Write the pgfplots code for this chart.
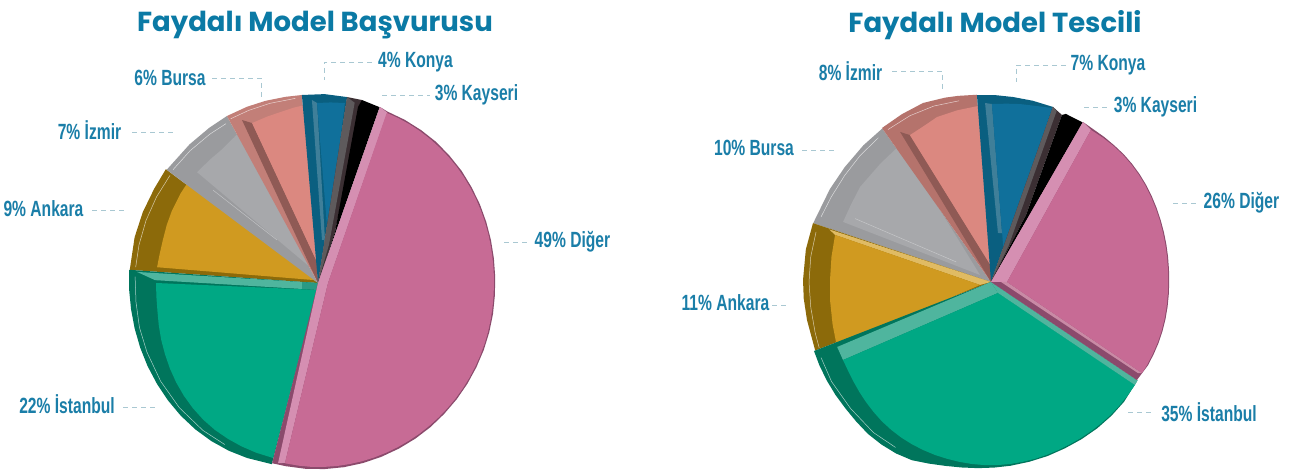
\documentclass[border=0pt]{standalone}
\usepackage{fontspec}
\usepackage{pgfplots}
\pgfplotsset{compat=1.18}
\setmainfont{Liberation Sans}
\newfontfamily\titlefont{Poppins}
\newfontfamily\labfont[FakeStretch=0.71]{Liberation Sans}
\definecolor{tc}{HTML}{0B7AA5}
\definecolor{lc}{HTML}{1A7EA8}
\definecolor{ld}{HTML}{A9C8D2}
\definecolor{gob}{HTML}{8C6A0A}\definecolor{gof}{HTML}{D09A20}\definecolor{gol}{HTML}{E0BB63}
\definecolor{grb}{HTML}{9A9B9E}\definecolor{grf}{HTML}{A7A8AB}\definecolor{grl}{HTML}{D6D7D9}
\definecolor{sab}{HTML}{C27F78}\definecolor{sad}{HTML}{8F5A55}\definecolor{saf}{HTML}{DB8880}\definecolor{sac}{HTML}{B5736C}
\definecolor{blb}{HTML}{0A5F80}\definecolor{bll}{HTML}{3F7F99}\definecolor{blf}{HTML}{10709B}
\definecolor{kad}{HTML}{3B2F33}\definecolor{kag}{HTML}{5E5A5C}
\definecolor{geb}{HTML}{00755C}\definecolor{gef}{HTML}{00A884}\definecolor{gel}{HTML}{4FB59E}\definecolor{gem}{HTML}{2A9A84}
\definecolor{pib}{HTML}{8B4A6C}\definecolor{pil}{HTML}{D58FB2}\definecolor{pif}{HTML}{C76B95}\definecolor{pim}{HTML}{C98AA5}
% wedges are tables of (angle, radius in px) about each pie's centre
\newcommand\W[4]{\addplot[fill=#3,draw=none,forget plot] table[row sep=\\,x expr={#1+\thisrow{r}*cos(\thisrow{t})},y expr={#2-\thisrow{r}*sin(\thisrow{t})}] {t r\\ #4};}
\newcommand\LW[2]{\W{318}{283}{#1}{#2}}
\newcommand\RW[2]{\W{991}{282}{#1}{#2}}
\newcommand\Ln[4]{\addplot[draw=#3,line width=0.5pt,opacity=0.65,forget plot] table[row sep=\\,x expr={#1+\thisrow{r}*cos(\thisrow{t})},y expr={#2-\thisrow{r}*sin(\thisrow{t})}] {t r\\ #4};}
\newcommand\Lb[3]{\node[font=\labfont\bfseries\fontsize{22}{23}\selectfont,text=lc,inner sep=0pt] at (axis cs:#1,#2) {#3};}
\newcommand\Ld[1]{\addplot[draw=ld,line width=0.8pt,dash pattern=on 5pt off 4pt,forget plot] coordinates {#1};}
\begin{document}
\begin{tikzpicture}
\begin{axis}[scale only axis,width=1291pt,height=468pt,xmin=0,xmax=1291,ymin=0,ymax=468,y dir=reverse,hide axis,clip=false]
\addplot[fill=white,draw=none,forget plot] coordinates {(0,0) (1291,0) (1291,468) (0,468)};
% ---------- left pie ----------
\LW{gob}{0 0\\ 143.2 190\\ 150 189\\ 158 189\\ 166 189\\ 176 188.7\\}
\LW{gof}{135 4\\ 142.2 164.6\\ 147 164\\ 153.7 163\\ 159 162\\ 164.5 161\\ 170 161\\ 174.4 161.7\\}
\Ln{318}{283}{white}{144 183\\ 152 183\\ 160 183\\ 168 183\\ 175 183\\}
\LW{grb}{0 0\\ 118.6 190.2\\ 125 189.5\\ 132.8 189\\ 143.2 189\\}
\LW{grf}{100 11\\ 115.8 172\\ 120 168\\ 125.8 164.5\\ 131 164\\ 137.5 164\\}
\Ln{318}{283}{white}{120 184\\ 126 184\\ 134 184\\ 142 184\\}
\Ln{318}{283}{grl}{138.5 140\\ 133.6 59.4\\}
\LW{sab}{0 0\\ 94.9 188.7\\ 100 189\\ 106.2 189.6\\ 112 190\\ 118.6 190.2\\}
\LW{sad}{0 0\\ 115 179.8\\ 112.4 173\\ 92.7 21\\}
\LW{saf}{92.7 21\\ 112.4 173\\ 107 174\\ 102.5 175\\ 98 177\\ 94.2 178.5\\}
\Ln{318}{283}{white}{97 186\\ 105 186\\ 112 186\\ 118 186\\}
\LW{blb}{0 0\\ 94.9 188.7\\ 88 189\\ 81.1 188.2\\}
\LW{bll}{91.9 183.1\\ 90.3 180\\ 80.8 43.6\\ 84.7 43.2\\}
\LW{blf}{77.5 46\\ 90.3 180\\ 86 181\\ 81.5 182\\}
\LW{kad}{0 0\\ 81.1 188.2\\ 76.5 188.2\\ 71.6 53.8\\}
\LW{kag}{0 0\\ 81.1 188.2\\ 78.5 184\\ 74 40\\}
\LW{black}{0 0\\ 71.6 53.8\\ 77.2 180.5\\ 76.5 188.2\\ 70.7 186.3\\}
\LW{geb}{0 0\\ 176 189.4\\ 182 189\\ 188 188.8\\ 194 188.9\\ 200 189.2\\ 206 189.6\\ 212 190\\ 218 190.5\\ 224 190.9\\ 230 191\\ 236 190.7\\ 242 190\\ 248 188.8\\ 255.7 187\\}
\LW{gef}{262 7\\ 180 162\\ 185 162.2\\ 190 163\\ 195 164.8\\ 200 166.8\\ 205 168.8\\ 210 171\\ 215 173.2\\ 220 175.2\\ 225 177\\ 230 178.5\\ 235 179.5\\ 240 180\\ 245 180.4\\ 250 180.6\\ 255.6 180.7\\}
\LW{gel}{176.5 181.3\\ 179 163\\ 200.6 17\\ 176.4 16\\}
\LW{gem}{176.4 16\\ 200.6 17\\ 262 7\\ 0 0\\}
\Ln{318}{283}{white}{178 183\\ 186 183\\ 194 184\\ 202 184.5\\ 212 185.5\\ 222 186.5\\ 232 187\\ 240 186.5\\}
\LW{pib}{0 0\\ 70.6 186.6\\ 68 185\\ 62 184.8\\ 56 184.4\\ 50 184\\ 44 183\\ 38 182.2\\ 32 181\\ 26 180\\ 20 179\\ 14 178.2\\ 8 177.6\\ 2 177.3\\ -4 177.3\\ -10 177.7\\ -16 178.2\\ -22 178.8\\ -28 179.4\\ -34 180.2\\ -40 181\\ -46 181.8\\ -52 182.8\\ -58 183.6\\ -64 184.3\\ -70 185\\ -76 185.6\\ -82 186\\ -88 186.2\\ -94 186.2\\ -100 186\\ -104.3 186\\}
\LW{pil}{0 0\\ 70.6 186.6\\ 67.9 184\\ 0 10\\}
\LW{pil}{0 0\\ -102.5 184.4\\ -100.4 183\\ 0 10\\}
\LW{pif}{0 10\\ 68 183.5\\ 64 183.4\\ 60 183.2\\ 56 182.9\\ 52 182.5\\ 48 182\\ 44 181.5\\ 40 181\\ 36 180.3\\ 32 179.6\\ 28 179\\ 24 178.3\\ 20 177.7\\ 16 177.2\\ 12 176.7\\ 8 176.3\\ 4 176.1\\ 0 176\\ -4 176\\ -8 176.2\\ -12 176.5\\ -16 176.9\\ -20 177.3\\ -24 177.7\\ -28 178.1\\ -32 178.6\\ -36 179.1\\ -40 179.6\\ -44 180.1\\ -48 180.6\\ -52 181.1\\ -56 181.6\\ -60 182\\ -64 182.5\\ -68 182.9\\ -72 183.3\\ -76 183.6\\ -80 183.8\\ -84 184\\ -88 184\\ -92 184\\ -96 183.7\\ -100.4 183.3\\}
% ---------- right pie ----------
\RW{grb}{0 0\\ 125.3 188.1\\ 133 187\\ 141.8 186\\ 150 186\\ 161.7 187.3\\}
\RW{grf}{147.5 13\\ 123.6 164.5\\ 133 162\\ 144 161.8\\ 151 160\\ 157.9 159.7\\}
\Ln{991}{282}{white}{128 183\\ 136 182\\ 144 181\\ 152 181\\ 159 182\\}
\Ln{991}{282}{grl}{155 150\\ 150 40\\}
\RW{sac}{0 0\\ 94.3 187.8\\ 100 189\\ 104 190\\ 110.8 191.5\\ 118 190\\ 125.3 188.7\\}
\RW{sad}{0 0\\ 121.2 175.4\\ 118.9 167.8\\ 90 16\\}
\RW{saf}{90 16\\ 118.9 167.8\\ 113 170\\ 108.1 173.6\\ 101 175\\ 94.2 176.5\\}
\Ln{991}{282}{white}{100 184\\ 108 185\\ 116 185\\ 124 184\\}
\RW{blb}{0 0\\ 70.5 185.7\\ 77 186\\ 83.2 186.3\\ 89 187\\ 94.3 187.5\\}
\RW{bll}{91.9 179.1\\ 89.7 178\\ 77.3 50.2\\ 81.9 49.5\\}
\RW{blf}{62.5 28.2\\ 89.7 178\\ 85 179\\ 80.7 180.3\\ 75 182\\ 70.7 184.4\\}
\RW{kad}{0 0\\ 70.5 185.7\\ 67 181.5\\ 62.4 75.6\\}
\RW{kag}{0 0\\ 70.5 185.7\\ 69 183\\ 64 40\\}
\RW{black}{0 0\\ 62.4 75.6\\ 67 181.5\\ 66 184\\ 60.1 184\\}
\RW{gob}{0 0\\ 161.7 187.5\\ 170 188\\ 179.4 188\\ 185 188\\ 191.7 187.9\\ 201.3 188.7\\}
\RW{gol}{0 0\\ 162 170\\ 163.2 162.9\\ 195 11.4\\}
\RW{gof}{195 11.4\\ 163.2 162.9\\ 171 161.5\\ 179.3 161\\ 187 162\\ 195 164\\ 202.9 167.2\\}
\Ln{991}{282}{white}{164 182\\ 172 182\\ 180 182\\ 188 182\\ 196 183\\ 201 184\\}
\RW{geb}{0 0\\ 201.3 190\\ 206 190.8\\ 211 191.5\\ 216 192.2\\ 221 192.8\\ 226 194\\ 231 195.5\\ 236 196\\ 241 196\\ 246 195\\ 251 192\\ 256 189.5\\ 261 187.8\\ 266 186.6\\ 271 185.6\\ 276 184.8\\ 282 183.8\\ 288 183\\ 294 182\\ 300 181.4\\ 306 180.8\\ 312 180\\ 318 179\\ 326.1 176.5\\}
\RW{gel}{202.9 167\\ 207.8 167.3\\ 302.5 13\\ 0 0\\}
\RW{gef}{302.5 13\\ 207.8 167.3\\ 212 168.3\\ 216 169.8\\ 220 171.6\\ 224 173.4\\ 228 175.2\\ 232 177\\ 236 178.4\\ 240 179.6\\ 244 180.5\\ 248 181.2\\ 252 181.8\\ 256 182.2\\ 260 182.6\\ 264 183\\ 268 183.2\\ 272 183.2\\ 276 183\\ 280 182.6\\ 284 182.2\\ 288 181.6\\ 292 181\\ 296 180.4\\ 300 180\\ 304 179.6\\ 308 179.2\\ 312 178.8\\ 316 178.2\\ 320 177.6\\ 324.4 177\\}
\RW{gel}{302.5 13\\ 324.4 177\\ 326.1 176.5\\ 0 0\\}
\Ln{991}{282}{white}{204 186\\ 212 188\\ 222 189\\ 232 191\\ 240 191\\}
\RW{pib}{0 0\\ 60.1 184.6\\ 52 184\\ 48 184\\ 44 184.2\\ 40 184\\ 36 183.6\\ 32 183\\ 28 182.2\\ 24 181.4\\ 20 180.6\\ 16 179.9\\ 12 179.3\\ 8 178.8\\ 4 178.4\\ 0 178.2\\ -4 178.2\\ -8 178.3\\ -12 178.4\\ -16 178.4\\ -20 178.3\\ -24 178\\ -28 177.7\\ -33.9 175.8\\}
\RW{pil}{0 0\\ 60.1 184.6\\ 56.7 182\\ 0 16\\}
\RW{pim}{0 16\\ -31.1 176.3\\ -31.8 173\\ 0 10\\}
\RW{pif}{0 16\\ 56.7 182\\ 52 182.6\\ 48 183\\ 44 183.2\\ 40 183\\ 36 182.6\\ 32 182\\ 28 181.2\\ 24 180.4\\ 20 179.6\\ 16 178.9\\ 12 178.3\\ 8 177.8\\ 4 177.4\\ 0 177.2\\ -4 177.2\\ -8 177.3\\ -12 177.4\\ -16 177.4\\ -20 177.3\\ -24 177\\ -28 176.7\\ -31.1 176.3\\}
% ---------- leaders ----------
\Ld{(372,62) (324,62) (324,80)}
\Ld{(382,95) (430,95)}
\Ld{(504,242) (530,242)}
\Ld{(212,78) (261,78) (261,97)}
\Ld{(132,132) (175,132)}
\Ld{(92,210) (126,210)}
\Ld{(123,407) (156,407)}
\Ld{(892,71) (942,71) (942,89)}
\Ld{(802,150) (835,150)}
\Ld{(772,305) (787,305)}
\Ld{(1066,65) (1016,65) (1016,82)}
\Ld{(1084,107) (1108,107)}
\Ld{(1173,203) (1197,203)}
\Ld{(1128,412) (1153,412)}
% ---------- labels ----------
\Lb{415.5}{62}{4\% Konya}
\Lb{476.5}{95}{3\% Kayseri}
\Lb{572.5}{242}{49\% Diğer}
\Lb{170}{78}{6\% Bursa}
\Lb{89.5}{130}{7\% İzmir}
\Lb{43.5}{209}{9\% Ankara}
\Lb{67}{404}{22\% İstanbul}
\Lb{1108}{65}{7\% Konya}
\Lb{1155.5}{107}{3\% Kayseri}
\Lb{1241.5}{203}{26\% Diğer}
\Lb{1209}{412}{35\% İstanbul}
\Lb{725.5}{303}{11\% Ankara}
\Lb{754}{148}{10\% Bursa}
\Lb{850.5}{71}{8\% İzmir}
\node[font=\titlefont\bfseries\fontsize{27.5}{28}\selectfont,text=tc,inner sep=0pt] at (axis cs:315,25) {Faydalı Model Başvurusu};
\node[font=\titlefont\bfseries\fontsize{27.5}{28}\selectfont,text=tc,inner sep=0pt] at (axis cs:995,25) {Faydalı Model Tescili};
\end{axis}
\end{tikzpicture}
\end{document}
